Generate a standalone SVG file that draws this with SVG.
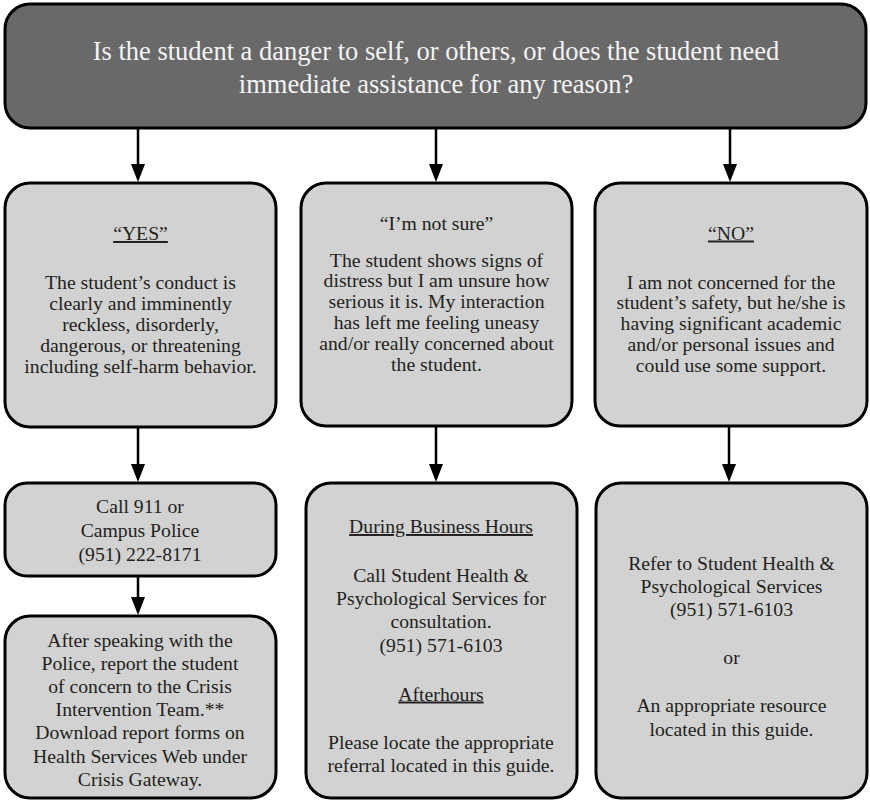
<svg xmlns="http://www.w3.org/2000/svg" width="870" height="809" viewBox="0 0 870 809">
<defs>
<marker id="ah" markerWidth="18" markerHeight="14" refX="10" refY="7" orient="auto" markerUnits="userSpaceOnUse" viewBox="0 0 18 14">
<path d="M0,0 L18,7 L0,14 Z" fill="#000"/>
</marker>
<style>
.box{fill:#d1d2d1;stroke:#000;stroke-width:3}
.top{fill:#696969;stroke:#000;stroke-width:3}
.t{font-family:"Liberation Serif","Times New Roman",serif;font-size:19.7px;fill:#231f20;text-anchor:middle}
.tt{font-family:"Liberation Serif","Times New Roman",serif;font-size:26.5px;fill:#f4f4f4;text-anchor:middle}
.u{text-decoration:underline}
.c{stroke:#000;stroke-width:2.5;fill:none}
</style>
</defs>
<rect width="870" height="809" fill="#fff"/>
<g id="question">
<rect class="top" x="5" y="4" width="861" height="124" rx="25"/>
<text class="tt" x="436" y="60">Is the student a danger to self, or others, or does the student need</text>
<text class="tt" x="436" y="92.5">immediate assistance for any reason?</text>
</g>
<g id="yes">
<rect class="box" x="5" y="183" width="271" height="244" rx="25"/>
<text class="t u" x="140.5" y="240">“YES”</text>
<text class="t" x="140.5" y="289">The student’s conduct is</text>
<text class="t" x="140.5" y="310">clearly and imminently</text>
<text class="t" x="140.5" y="331">reckless, disorderly,</text>
<text class="t" x="140.5" y="352">dangerous, or threatening</text>
<text class="t" x="140.5" y="373">including self-harm behavior.</text>
</g>
<g id="unsure">
<rect class="box" x="301" y="183" width="271" height="243" rx="25"/>
<text class="t" x="436.5" y="229.5">“I’m not sure”</text>
<text class="t" x="436.5" y="266.5">The student shows signs of</text>
<text class="t" x="436.5" y="287.4">distress but I am unsure how</text>
<text class="t" x="436.5" y="308.3">serious it is. My interaction</text>
<text class="t" x="436.5" y="329.2">has left me feeling uneasy</text>
<text class="t" x="436.5" y="350.1">and/or really concerned about</text>
<text class="t" x="436.5" y="371">the student.</text>
</g>
<g id="no">
<rect class="box" x="595" y="183" width="272" height="243" rx="25"/>
<text class="t u" x="731" y="239.5">“NO”</text>
<text class="t" x="731" y="288.5">I am not concerned for the</text>
<text class="t" x="731" y="309.4">student’s safety, but he/she is</text>
<text class="t" x="731" y="330.3">having significant academic</text>
<text class="t" x="731" y="351.2">and/or personal issues and</text>
<text class="t" x="731" y="372">could use some support.</text>
</g>
<g id="call911">
<rect class="box" x="5" y="483" width="271" height="93" rx="22"/>
<text class="t" x="140" y="513">Call 911 or</text>
<text class="t" x="140" y="536.7">Campus Police</text>
<text class="t" x="140" y="560.5">(951) 222-8171</text>
</g>
<g id="report">
<rect class="box" x="5" y="616" width="271" height="182" rx="25"/>
<text class="t" x="140" y="646.5">After speaking with the</text>
<text class="t" x="140" y="669.7">Police, report the student</text>
<text class="t" x="140" y="692.9">of concern to the Crisis</text>
<text class="t" x="140" y="716.1">Intervention Team.**</text>
<text class="t" x="140" y="739.3">Download report forms on</text>
<text class="t" x="140" y="762.5">Health Services Web under</text>
<text class="t" x="140" y="785.7">Crisis Gateway.</text>
</g>
<g id="consult">
<rect class="box" x="306" y="483" width="271" height="315" rx="25"/>
<text class="t u" x="441" y="533">During Business Hours</text>
<text class="t" x="441" y="581.7">Call Student Health &amp;</text>
<text class="t" x="441" y="605">Psychological Services for</text>
<text class="t" x="441" y="628.3">consultation.</text>
<text class="t" x="441" y="651.6">(951) 571-6103</text>
<text class="t u" x="441" y="700.5">Afterhours</text>
<text class="t" x="441" y="749.3">Please locate the appropriate</text>
<text class="t" x="441" y="772">referral located in this guide.</text>
</g>
<g id="refer">
<rect class="box" x="596" y="483" width="271" height="315" rx="25"/>
<text class="t" x="731.5" y="569.5">Refer to Student Health &amp;</text>
<text class="t" x="731.5" y="592.8">Psychological Services</text>
<text class="t" x="731.5" y="616.1">(951) 571-6103</text>
<text class="t" x="731.5" y="664">or</text>
<text class="t" x="731.5" y="712">An appropriate resource</text>
<text class="t" x="731.5" y="735.5">located in this guide.</text>
</g>
<g id="connectors">
<line class="c" x1="138" y1="129" x2="138" y2="174" marker-end="url(#ah)"/>
<line class="c" x1="436" y1="129" x2="436" y2="174" marker-end="url(#ah)"/>
<line class="c" x1="730" y1="129" x2="730" y2="174" marker-end="url(#ah)"/>
<line class="c" x1="138" y1="428" x2="138" y2="474" marker-end="url(#ah)"/>
<line class="c" x1="436" y1="427" x2="436" y2="474" marker-end="url(#ah)"/>
<line class="c" x1="729" y1="427" x2="729" y2="474" marker-end="url(#ah)"/>
<line class="c" x1="138" y1="577" x2="138" y2="607" marker-end="url(#ah)"/>
</g>
</svg>
